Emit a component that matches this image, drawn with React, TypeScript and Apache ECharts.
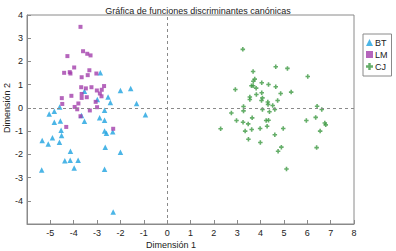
import React, { useEffect, useRef } from "react";
import * as echarts from "echarts";

const TITLE = "Gráfica de funciones discriminantes canónicas";
const X_NAME = "Dimensión 1";
const Y_NAME = "Dimensión 2";
const SERIES_NAMES = ["BT", "LM", "CJ"];

const BT: number[][] = [
  [-2.86, 1.51], [-3.54, 0.72], [-2.99, 0.36], [-2.53, 0.47], [-2.0, 0.75],
  [-1.56, 0.84], [-2.43, 0.23], [-1.31, 0.19], [-0.93, -0.3], [-2.68, -0.1],
  [-4.6, 0.04], [-4.83, -0.14], [-5.05, -0.26], [-3.67, -0.33], [-3.54, -0.57],
  [-2.89, -0.43], [-2.68, -0.53], [-4.83, -0.62], [-4.57, -0.56], [-4.54, -0.96],
  [-2.68, -0.99], [-2.6, -1.09], [-2.33, -1.03], [-4.52, -1.19], [-4.91, -1.29],
  [-5.35, -1.4], [-5.09, -1.55], [-4.61, -1.48], [-4.14, -1.87], [-2.65, -1.69],
  [-2.0, -1.91], [-4.38, -2.28], [-4.15, -2.25], [-3.81, -2.25], [-3.98, -2.59],
  [-5.37, -2.67], [-2.68, -2.64], [-2.31, -4.48],
];

const LM: number[][] = [
  [-3.71, 3.49], [-3.6, 2.44], [-3.42, 2.33], [-3.28, 2.26], [-4.27, 2.23],
  [-3.98, 1.74], [-3.33, 1.62], [-4.41, 1.51], [-4.17, 1.54], [-4.14, 1.48],
  [-3.4, 1.41], [-3.03, 1.48], [-3.66, 1.32], [-3.68, 0.89], [-3.48, 0.84],
  [-3.24, 0.89], [-3.01, 0.75], [-2.8, 0.78], [-2.7, 0.94], [-2.88, 0.62],
  [-2.81, 0.5], [-3.66, 0.6], [-3.44, 0.46], [-3.66, 0.43], [-4.1, 0.52],
  [-4.51, 0.42], [-4.49, 0.17], [-3.8, 0.19], [-3.06, 0.26], [-3.96, 0.04],
  [-3.85, -0.06], [-3.31, -0.11], [-3.0, 0.03], [-3.71, -0.36], [-4.32, -0.82],
  [-2.31, -0.9],
];

const CJ: number[][] = [
  [3.24, 2.52], [4.65, 1.77], [5.15, 1.7], [6.02, 1.35], [3.68, 1.57],
  [3.75, 1.24], [3.69, 1.15], [2.92, 0.79], [3.61, 0.95], [3.68, 0.95],
  [3.81, 0.85], [4.05, 1.08], [4.34, 1.01], [4.65, 0.91], [4.86, 0.62],
  [5.31, 0.68], [4.05, 0.65], [3.82, 0.58], [3.54, 0.47], [3.54, 0.36],
  [4.08, 0.43], [4.04, 0.32], [4.73, 0.32], [4.31, 0.25], [4.32, 0.15],
  [4.52, 0.1], [3.27, 0.06], [3.27, -0.13], [4.08, -0.07], [4.38, -0.17],
  [4.61, -0.07], [2.75, -0.22], [6.42, 0.07], [6.62, -0.07], [2.97, -0.54],
  [3.25, -0.62], [3.47, -0.69], [3.64, -0.43], [4.24, -0.54], [4.34, -0.53],
  [4.28, -0.79], [3.98, -0.89], [3.62, -0.93], [3.34, -1.0], [4.97, -0.89],
  [5.96, -0.54], [6.36, -0.41], [6.75, -0.65], [6.79, -0.73], [6.55, -1.0],
  [2.29, -0.9], [3.48, -1.35], [3.99, -1.49], [4.61, -1.16], [4.89, -1.69],
  [4.75, -1.87], [6.4, -1.71], [5.11, -2.63],
];

const COLORS = ["#1ea3e0", "#a33fab", "#3f9a44"];
const FONT = "'Liberation Sans', Arial, sans-serif";
const GRAY = "#8a8a8a";
const PLUS = "path://M2.6,0H5.4V2.6H8V5.4H5.4V8H2.6V5.4H0V2.6H2.6Z";

export default function App() {
  const ref = useRef<HTMLDivElement>(null);
  useEffect(() => {
    if (!ref.current) return;
    const chart = echarts.init(ref.current, undefined, { renderer: "svg" });
    const axisCommon = {
      type: "value" as const,
      interval: 1,
      splitLine: { show: false },
      axisLine: { onZero: false, lineStyle: { color: GRAY, width: 1 } },
      axisTick: { inside: true, length: 4, lineStyle: { color: GRAY } },
      axisLabel: { color: "#222", fontSize: 9, fontFamily: FONT, showMinLabel: false, margin: 4 },
    };
    chart.setOption({
      animation: false,
      textStyle: { fontFamily: FONT },
      title: {
        text: TITLE,
        left: "center",
        top: 1,
        textStyle: { fontSize: 9, fontWeight: "normal", color: "#222", fontFamily: FONT },
      },
      grid: {
        left: 27,
        top: 15,
        right: 42,
        bottom: 27,
        show: true,
        borderColor: GRAY,
        borderWidth: 1,
      },
      legend: {
        orient: "vertical",
        left: 363,
        top: 34,
        padding: [4, 4, 5, 3],
        itemGap: 3,
        itemWidth: 7,
        itemHeight: 7,
        borderColor: GRAY,
        borderWidth: 1,
        textStyle: { fontSize: 9, color: "#222", fontFamily: FONT, padding: [0, 0, 0, -3] },
        data: SERIES_NAMES,
      },
      xAxis: { ...axisCommon, min: -6, max: 8 },
      yAxis: { ...axisCommon, min: -5, max: 4 },
      graphic: [
        {
          type: "text",
          x: 171,
          y: 245,
          style: { text: X_NAME, fontSize: 9, fill: "#222", fontFamily: FONT, align: "center", verticalAlign: "middle" },
        },
        {
          type: "text",
          x: 7,
          y: 108,
          rotation: Math.PI / 2,
          style: { text: Y_NAME, fontSize: 9, fill: "#222", fontFamily: FONT, align: "center", verticalAlign: "middle" },
        },
      ],
      series: [
        {
          name: SERIES_NAMES[0],
          type: "scatter",
          symbol: "triangle",
          symbolSize: 5.5,
          itemStyle: { color: COLORS[0] },
          data: BT,
          markLine: {
            silent: true,
            symbol: "none",
            label: { show: false },
            lineStyle: { color: GRAY, type: [3, 3], width: 1 },
            data: [{ xAxis: 0 }, { yAxis: 0 }],
          },
        },
        {
          name: SERIES_NAMES[1],
          type: "scatter",
          symbol: "rect",
          symbolSize: 4,
          itemStyle: { color: COLORS[1] },
          data: LM,
        },
        {
          name: SERIES_NAMES[2],
          type: "scatter",
          symbol: PLUS,
          symbolSize: 4.5,
          itemStyle: { color: COLORS[2] },
          data: CJ,
        },
      ],
    });
    return () => chart.dispose();
  }, []);
  return <div ref={ref} style={{ width: 396, height: 251, position: "absolute", left: 0, top: 0 }} />;
}
